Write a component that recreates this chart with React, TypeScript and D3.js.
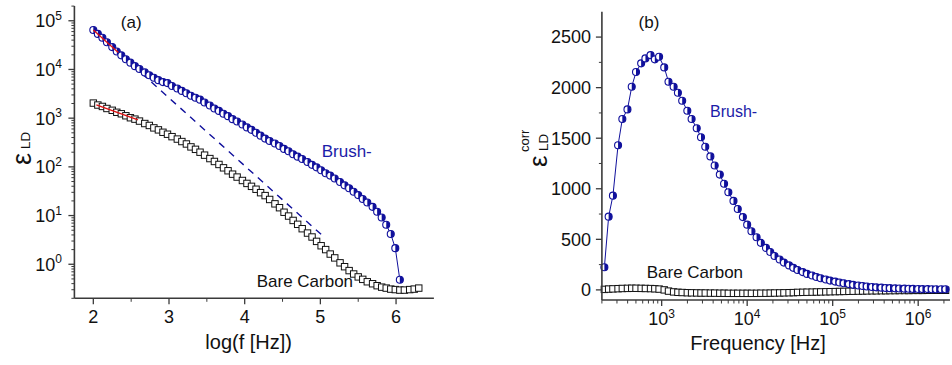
import React from "react";
import * as d3 from "d3";

// ---------- Panel (a) data ----------
const leftLogF = [
  2.0, 2.06, 2.12, 2.18, 2.25, 2.31, 2.37, 2.43, 2.49, 2.55, 2.61, 2.68, 2.74, 2.8, 2.86, 2.92, 2.98,
  3.04, 3.11, 3.17, 3.23, 3.29, 3.35, 3.41, 3.47, 3.54, 3.6, 3.66, 3.72, 3.78, 3.84, 3.9, 3.97, 4.03,
  4.09, 4.15, 4.21, 4.27, 4.33, 4.4, 4.46, 4.52, 4.58, 4.64, 4.7, 4.76, 4.83, 4.89, 4.95, 5.01, 5.07,
  5.13, 5.19, 5.26, 5.32, 5.38, 5.44, 5.5, 5.56, 5.62, 5.69, 5.75, 5.81, 5.87, 5.93, 5.99, 6.05, 6.11,
  6.18, 6.24, 6.3,
];
const brushEpsLD = [
  64600, 53700, 44700, 36300, 28800, 23400, 19500, 16200, 13800, 11700, 10200, 8710, 7590, 6760, 6030,
  5500, 5250, 4570, 4070, 3630, 3240, 2880, 2630, 2400, 2090, 1820, 1580, 1410, 1230, 1100, 955, 851,
  741, 646, 575, 501, 437, 380, 339, 302, 269, 234, 209, 182, 162, 145, 126, 110, 97.7, 85.1, 74.1,
  66.1, 57.5, 49.0, 41.7, 36.3, 30.9, 26.3, 21.9, 18.6, 15.1, 12.0, 9.12, 6.46, 4.17, 2.14, 0.48,
];
const bareEpsLD = [
  2040, 1860, 1740, 1580, 1450, 1320, 1230, 1120, 1020, 955, 871, 776, 708, 631, 575, 513, 468, 417,
  372, 331, 295, 257, 229, 200, 174, 148, 129, 112, 95.5, 83.2, 70.8, 61.7, 52.5, 45.7, 39.8, 34.7,
  29.5, 25.7, 21.4, 17.4, 14.5, 11.7, 9.77, 7.94, 6.61, 5.37, 4.37, 3.63, 2.95, 2.4, 2.0, 1.62, 1.35,
  1.07, 0.891, 0.741, 0.631, 0.55, 0.49, 0.437, 0.398, 0.363, 0.339, 0.324, 0.309, 0.302, 0.295,
  0.295, 0.302, 0.309, 0.324,
];
const brushFitLogF = [2.0, 2.33];
const brushFitEps = [64600, 22400];
const brushExtrapLogF = [2.0, 5.06];
const brushExtrapEps = [64600, 3.5];
const bareFitLogF = [2.04, 2.59];
const bareFitEps = [1870, 918];
const leftXTicks = [2, 3, 4, 5, 6];
const leftXMinor = [2.5, 3.5, 4.5, 5.5];
const leftYExps = [0, 1, 2, 3, 4, 5];

// ---------- Panel (b) data ----------
const rightLogF = [
  2.33, 2.38, 2.43, 2.49, 2.54, 2.6, 2.65, 2.7, 2.76, 2.81, 2.87, 2.92, 2.97, 3.03, 3.08, 3.14, 3.19,
  3.24, 3.3, 3.35, 3.41, 3.46, 3.51, 3.57, 3.62, 3.68, 3.73, 3.78, 3.84, 3.89, 3.95, 4.0, 4.05, 4.11,
  4.16, 4.22, 4.27, 4.32, 4.38, 4.43, 4.49, 4.54, 4.59, 4.65, 4.7, 4.76, 4.81, 4.86, 4.92, 4.97, 5.03,
  5.08, 5.13, 5.19, 5.24, 5.3, 5.35, 5.4, 5.46, 5.51, 5.57, 5.62, 5.67, 5.73, 5.78, 5.84, 5.89, 5.94,
  6.0, 6.05, 6.11, 6.16, 6.21, 6.27, 6.32,
];
const brushCorr = [
  224, 724, 932, 1430, 1690, 1785, 2009, 2154, 2240, 2289, 2322, 2280, 2305, 2200, 2058, 2009, 1950,
  1870, 1772, 1690, 1598, 1509, 1416, 1320, 1230, 1140, 1050, 965, 880, 800, 720, 645, 580, 520, 465,
  415, 375, 335, 300, 270, 242, 218, 196, 176, 158, 142, 128, 115, 103, 92, 82, 73, 65, 57, 50, 44, 38,
  33, 29, 25, 22, 19, 17, 15, 13, 12, 11, 10, 9, 8, 8, 7, 7, 6, 6,
];
const bareCorr = [
  5, 8, 10, 12, 14, 15, 16, 16, 15, 14, 13, 11, 8, 0, -12, -20, -24, -26, -28, -29, -30, -31, -31, -32,
  -32, -33, -33, -34, -34, -34, -34, -34, -34, -34, -33, -33, -32, -31, -30, -29, -28, -27, -25, -24,
  -23, -22, -21, -20, -19, -18, -17, -16, -15, -14, -13, -12, -11, -10, -9, -9, -8, -8, -7, -7, -6, -6,
  -6, -5, -5, -5, -4, -4, -4, -4, -4,
];
const rightYTicks = [0, 500, 1000, 1500, 2000, 2500];
const rightYMinor = [250, 750, 1250, 1750, 2250];
const rightXExps = [3, 4, 5, 6];

const FONT = "'Liberation Sans', Arial, Helvetica, sans-serif";
const BLUE = "#10109c";
const BLUE_TXT = "#1c1ca8";
const AXIS = "#3a3a3a";

// right half filled
function halfCircle(cx: number, cy: number, r: number) {
  return `M${cx},${cy - r}A${r},${r} 0 0 1 ${cx},${cy + r}Z`;
}

export default function App() {
  const xA = d3.scaleLinear().domain([1.75, 6.5]).range([74.4, 433.9]);
  const yA = d3.scaleLog().domain([0.2, 2e5]).range([298.3, 6.1]);
  const xB = d3.scaleLog().domain([200, Math.pow(10, 6.372)]).range([601.9, 950]);
  const yB = d3.scaleLinear().domain([-100, 2750]).range([300, 11.8]);

  const lineA = d3
    .line<[number, number]>()
    .x((d) => xA(d[0]))
    .y((d) => yA(d[1]));
  const lineB = d3
    .line<[number, number]>()
    .x((d) => xB(Math.pow(10, d[0])))
    .y((d) => yB(d[1]));

  const brushPtsA: [number, number][] = brushEpsLD.map((v, i) => [leftLogF[i], v]);
  const barePtsA: [number, number][] = bareEpsLD.map((v, i) => [leftLogF[i], v]);
  const brushPtsB: [number, number][] = brushCorr.map((v, i) => [rightLogF[i], v]);
  const barePtsB: [number, number][] = bareCorr.map((v, i) => [rightLogF[i], v]);

  const yAMinor: number[] = [];
  for (let e = -1; e <= 5; e++) {
    for (let m = 2; m <= 9; m++) {
      const v = m * Math.pow(10, e);
      if (v >= 0.2 && v <= 2e5) yAMinor.push(v);
    }
  }
  const xBMinor: number[] = [];
  for (let e = 2; e <= 6; e++) {
    for (let m = 2; m <= 9; m++) {
      const v = m * Math.pow(10, e);
      if (v >= 200 && v <= Math.pow(10, 6.372)) xBMinor.push(v);
    }
  }

  const axisA_x0 = xA.range()[0];
  const axisA_y0 = yA.range()[0];
  const axisB_x0 = xB.range()[0];
  const axisB_y0 = yB.range()[0];

  const r = 3.5;
  const sq = 3.2;

  return (
    <svg width={952} height={365} style={{ display: "block", position: "absolute", left: 0, top: 0 }} fontFamily={FONT}>
      <rect x={0} y={0} width={952} height={365} fill="#fff" />

      {/* ================= Panel (a) ================= */}
      <path
        d={lineA(brushExtrapLogF.map((v, i) => [v, brushExtrapEps[i]]) as [number, number][]) || ""}
        fill="none"
        stroke={BLUE}
        strokeWidth={1.4}
        strokeDasharray="7,6"
      />
      {barePtsA.map((d, i) => (
        <rect
          key={"ba" + i}
          x={xA(d[0]) - sq}
          y={yA(d[1]) - sq}
          width={sq * 2}
          height={sq * 2}
          fill="#fff"
          stroke="#111"
          strokeWidth={1}
        />
      ))}
      <path d={lineA(brushPtsA) || ""} fill="none" stroke={BLUE} strokeWidth={1} />
      {brushPtsA.map((d, i) => {
        const cx = xA(d[0]);
        const cy = yA(d[1]);
        return (
          <g key={"bra" + i}>
            <circle cx={cx} cy={cy} r={r} fill="#fff" stroke={BLUE} strokeWidth={1.1} />
            <path d={halfCircle(cx, cy, r)} fill={BLUE} />
          </g>
        );
      })}
      <path
        d={lineA(brushFitLogF.map((v, i) => [v, brushFitEps[i]]) as [number, number][]) || ""}
        fill="none"
        stroke="#e01010"
        strokeWidth={1.3}
      />
      <path
        d={lineA(bareFitLogF.map((v, i) => [v, bareFitEps[i]]) as [number, number][]) || ""}
        fill="none"
        stroke="#e01010"
        strokeWidth={1.3}
      />

      {/* axes (a) */}
      <line x1={axisA_x0} x2={axisA_x0} y1={axisA_y0} y2={yA.range()[1]} stroke={AXIS} strokeWidth={1.6} />
      <line x1={axisA_x0} x2={xA.range()[1]} y1={axisA_y0} y2={axisA_y0} stroke={AXIS} strokeWidth={1.6} />
      {leftYExps.map((e) => {
        const y = yA(Math.pow(10, e));
        return (
          <g key={"ya" + e}>
            <line x1={axisA_x0 - 6} x2={axisA_x0} y1={y} y2={y} stroke={AXIS} strokeWidth={1.3} />
            <text x={62} y={y + 6.5} fontSize={18} textAnchor="end" fill="#111">
              10
              <tspan fontSize={12} dy={-7.5}>
                {e}
              </tspan>
            </text>
          </g>
        );
      })}
      {yAMinor.map((v, i) => (
        <line key={"yam" + i} x1={axisA_x0 - 3} x2={axisA_x0} y1={yA(v)} y2={yA(v)} stroke={AXIS} strokeWidth={1} />
      ))}
      {leftXTicks.map((t) => (
        <g key={"xa" + t}>
          <line x1={xA(t)} x2={xA(t)} y1={axisA_y0} y2={axisA_y0 + 6} stroke={AXIS} strokeWidth={1.3} />
          <text x={xA(t)} y={323} fontSize={18} textAnchor="middle" fill="#111">
            {t}
          </text>
        </g>
      ))}
      {leftXMinor.map((t) => (
        <line key={"xam" + t} x1={xA(t)} x2={xA(t)} y1={axisA_y0} y2={axisA_y0 + 3.5} stroke={AXIS} strokeWidth={1} />
      ))}
      <text x={248.7} y={349} fontSize={20} textAnchor="middle" fill="#111">
        log(f [Hz])
      </text>
      <g transform="rotate(-90)">
        <text x={-165} y={30.7} fontSize={27} fill="#111">
          ε
        </text>
        <text x={-149} y={30} fontSize={13.5} fill="#111">
          LD
        </text>
      </g>
      <text x={131.2} y={28} fontSize={17} textAnchor="middle" fill="#111">
        (a)
      </text>
      <text x={321.7} y={157} fontSize={17} fill={BLUE_TXT}>
        Brush-
      </text>
      <text x={256.7} y={286.7} fontSize={17} fill="#111">
        Bare Carbon
      </text>

      {/* ================= Panel (b) ================= */}
      {barePtsB.map((d, i) => (
        <rect
          key={"bb" + i}
          x={xB(Math.pow(10, d[0])) - sq}
          y={yB(d[1]) - sq}
          width={sq * 2}
          height={sq * 2}
          fill="#fff"
          stroke="#111"
          strokeWidth={1}
        />
      ))}
      <path d={lineB(brushPtsB) || ""} fill="none" stroke={BLUE} strokeWidth={1} />
      {brushPtsB.map((d, i) => {
        const cx = xB(Math.pow(10, d[0]));
        const cy = yB(d[1]);
        return (
          <g key={"brb" + i}>
            <circle cx={cx} cy={cy} r={r} fill="#fff" stroke={BLUE} strokeWidth={1.1} />
            <path d={halfCircle(cx, cy, r)} fill={BLUE} />
          </g>
        );
      })}

      {/* axes (b) */}
      <line x1={axisB_x0} x2={axisB_x0} y1={axisB_y0} y2={yB.range()[1]} stroke={AXIS} strokeWidth={1.6} />
      <line x1={axisB_x0} x2={xB.range()[1]} y1={axisB_y0} y2={axisB_y0} stroke={AXIS} strokeWidth={1.6} />
      {rightYTicks.map((t) => (
        <g key={"yb" + t}>
          <line x1={axisB_x0 - 6} x2={axisB_x0} y1={yB(t)} y2={yB(t)} stroke={AXIS} strokeWidth={1.3} />
          <text x={591} y={yB(t) + 6.4} fontSize={18} textAnchor="end" fill="#111">
            {t}
          </text>
        </g>
      ))}
      {rightYMinor.map((t) => (
        <line key={"ybm" + t} x1={axisB_x0 - 3} x2={axisB_x0} y1={yB(t)} y2={yB(t)} stroke={AXIS} strokeWidth={1} />
      ))}
      {rightXExps.map((e) => {
        const x = xB(Math.pow(10, e));
        return (
          <g key={"xb" + e}>
            <line x1={x} x2={x} y1={axisB_y0} y2={axisB_y0 + 6} stroke={AXIS} strokeWidth={1.3} />
            <text x={x} y={325} fontSize={18} textAnchor="middle" fill="#111">
              10
              <tspan fontSize={12} dy={-7.5}>
                {e}
              </tspan>
            </text>
          </g>
        );
      })}
      {xBMinor.map((v, i) => (
        <line key={"xbm" + i} x1={xB(v)} x2={xB(v)} y1={axisB_y0} y2={axisB_y0 + 3.5} stroke={AXIS} strokeWidth={1} />
      ))}
      <text x={758} y={350} fontSize={20} textAnchor="middle" fill="#111">
        Frequency [Hz]
      </text>
      <g transform="rotate(-90)">
        <text x={-167} y={546.5} fontSize={26} fill="#111">
          ε
        </text>
        <text x={-152} y={528.5} fontSize={13} fill="#111">
          corr
        </text>
        <text x={-151} y={548} fontSize={13.5} fill="#111">
          LD
        </text>
      </g>
      <text x={649} y={28} fontSize={17} textAnchor="middle" fill="#111">
        (b)
      </text>
      <text x={710} y={116.7} fontSize={16} fill={BLUE_TXT}>
        Brush-
      </text>
      <text x={646.7} y={278} fontSize={17} fill="#111">
        Bare Carbon
      </text>
    </svg>
  );
}
